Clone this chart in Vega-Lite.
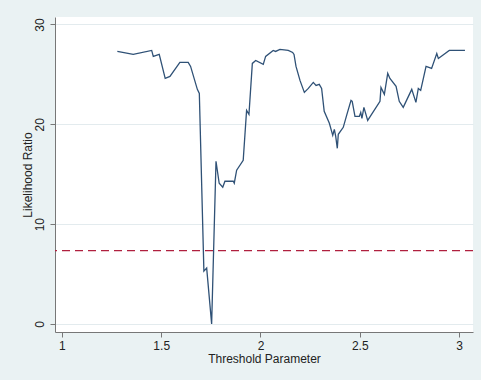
{
  "$schema": "https://vega.github.io/schema/vega-lite/v6.json",
  "width": 418,
  "height": 315,
  "autosize": {"type": "none"},
  "padding": {"left": 55, "top": 17, "right": 8, "bottom": 48},
  "background": "#eaf2f3",
  "view": {"fill": "white", "stroke": null},
  "config": {
    "font": "Liberation Sans",
    "axis": {
      "labelFont": "Liberation Sans",
      "titleFont": "Liberation Sans",
      "labelFontSize": 12,
      "titleFontSize": 12,
      "titleFontWeight": "normal",
      "labelColor": "#222222",
      "titleColor": "#222222",
      "domainColor": "#777777",
      "tickColor": "#777777",
      "tickSize": 5,
      "gridColor": "#e3ebee",
      "gridWidth": 1
    }
  },
  "layer": [
    {
      "data": {
        "values": [
          {"threshold": 1.279, "lr": 27.3},
          {"threshold": 1.359, "lr": 27.0},
          {"threshold": 1.452, "lr": 27.4},
          {"threshold": 1.460, "lr": 26.8},
          {"threshold": 1.490, "lr": 27.0},
          {"threshold": 1.520, "lr": 24.6},
          {"threshold": 1.544, "lr": 24.8},
          {"threshold": 1.594, "lr": 26.2},
          {"threshold": 1.636, "lr": 26.2},
          {"threshold": 1.648, "lr": 25.8},
          {"threshold": 1.682, "lr": 23.5},
          {"threshold": 1.692, "lr": 23.1},
          {"threshold": 1.715, "lr": 5.3},
          {"threshold": 1.729, "lr": 5.6},
          {"threshold": 1.754, "lr": 0.0},
          {"threshold": 1.776, "lr": 16.3},
          {"threshold": 1.792, "lr": 14.1},
          {"threshold": 1.810, "lr": 13.7},
          {"threshold": 1.821, "lr": 14.3},
          {"threshold": 1.863, "lr": 14.3},
          {"threshold": 1.868, "lr": 14.1},
          {"threshold": 1.880, "lr": 15.4},
          {"threshold": 1.913, "lr": 16.4},
          {"threshold": 1.930, "lr": 21.4},
          {"threshold": 1.942, "lr": 21.0},
          {"threshold": 1.959, "lr": 26.1},
          {"threshold": 1.976, "lr": 26.4},
          {"threshold": 2.014, "lr": 26.0},
          {"threshold": 2.026, "lr": 26.8},
          {"threshold": 2.064, "lr": 27.4},
          {"threshold": 2.076, "lr": 27.3},
          {"threshold": 2.098, "lr": 27.5},
          {"threshold": 2.140, "lr": 27.4},
          {"threshold": 2.162, "lr": 27.2},
          {"threshold": 2.169, "lr": 27.0},
          {"threshold": 2.179, "lr": 25.8},
          {"threshold": 2.199, "lr": 24.4},
          {"threshold": 2.221, "lr": 23.2},
          {"threshold": 2.241, "lr": 23.6},
          {"threshold": 2.266, "lr": 24.2},
          {"threshold": 2.280, "lr": 23.9},
          {"threshold": 2.296, "lr": 24.0},
          {"threshold": 2.308, "lr": 23.6},
          {"threshold": 2.321, "lr": 21.3},
          {"threshold": 2.347, "lr": 20.1},
          {"threshold": 2.364, "lr": 18.9},
          {"threshold": 2.372, "lr": 19.5},
          {"threshold": 2.379, "lr": 18.8},
          {"threshold": 2.387, "lr": 17.6},
          {"threshold": 2.392, "lr": 19.0},
          {"threshold": 2.417, "lr": 19.7},
          {"threshold": 2.434, "lr": 20.9},
          {"threshold": 2.456, "lr": 22.4},
          {"threshold": 2.462, "lr": 22.3},
          {"threshold": 2.476, "lr": 20.8},
          {"threshold": 2.498, "lr": 20.8},
          {"threshold": 2.505, "lr": 21.2},
          {"threshold": 2.511, "lr": 20.6},
          {"threshold": 2.521, "lr": 21.7},
          {"threshold": 2.540, "lr": 20.4},
          {"threshold": 2.602, "lr": 22.3},
          {"threshold": 2.607, "lr": 23.7},
          {"threshold": 2.624, "lr": 23.0},
          {"threshold": 2.641, "lr": 25.1},
          {"threshold": 2.652, "lr": 24.6},
          {"threshold": 2.683, "lr": 23.8},
          {"threshold": 2.699, "lr": 22.3},
          {"threshold": 2.719, "lr": 21.7},
          {"threshold": 2.762, "lr": 23.5},
          {"threshold": 2.783, "lr": 22.2},
          {"threshold": 2.795, "lr": 23.6},
          {"threshold": 2.807, "lr": 23.4},
          {"threshold": 2.834, "lr": 25.8},
          {"threshold": 2.862, "lr": 25.6},
          {"threshold": 2.888, "lr": 27.1},
          {"threshold": 2.896, "lr": 26.6},
          {"threshold": 2.951, "lr": 27.4},
          {"threshold": 3.030, "lr": 27.4}
        ]
      },
      "mark": {"type": "line", "color": "#2f5176", "strokeWidth": 1.3, "interpolate": "linear"},
      "encoding": {
        "x": {
          "field": "threshold",
          "type": "quantitative",
          "scale": {"domain": [0.965, 3.0705], "nice": false, "zero": false},
          "axis": {
            "title": "Threshold Parameter",
            "values": [1, 1.5, 2, 2.5, 3],
            "format": ".1~f",
            "grid": false,
            "labelPadding": 3,
            "titlePadding": 2,
            "labelFlush": false
          }
        },
        "y": {
          "field": "lr",
          "type": "quantitative",
          "scale": {"domain": [-0.8, 30.75], "nice": false, "zero": false},
          "axis": {
            "title": "Likelihood Ratio",
            "values": [0, 10, 20, 30],
            "grid": true,
            "labelAngle": 270,
            "labelAlign": "center",
            "labelBaseline": "bottom",
            "labelPadding": 4,
            "titlePadding": -1,
            "labelFlush": false
          }
        }
      }
    },
    {
      "data": {"values": [{"critical": 7.35}]},
      "mark": {"type": "rule", "color": "#b0203f", "strokeWidth": 1.2, "strokeDash": [8, 5]},
      "encoding": {
        "y": {"field": "critical", "type": "quantitative"}
      }
    }
  ]
}
